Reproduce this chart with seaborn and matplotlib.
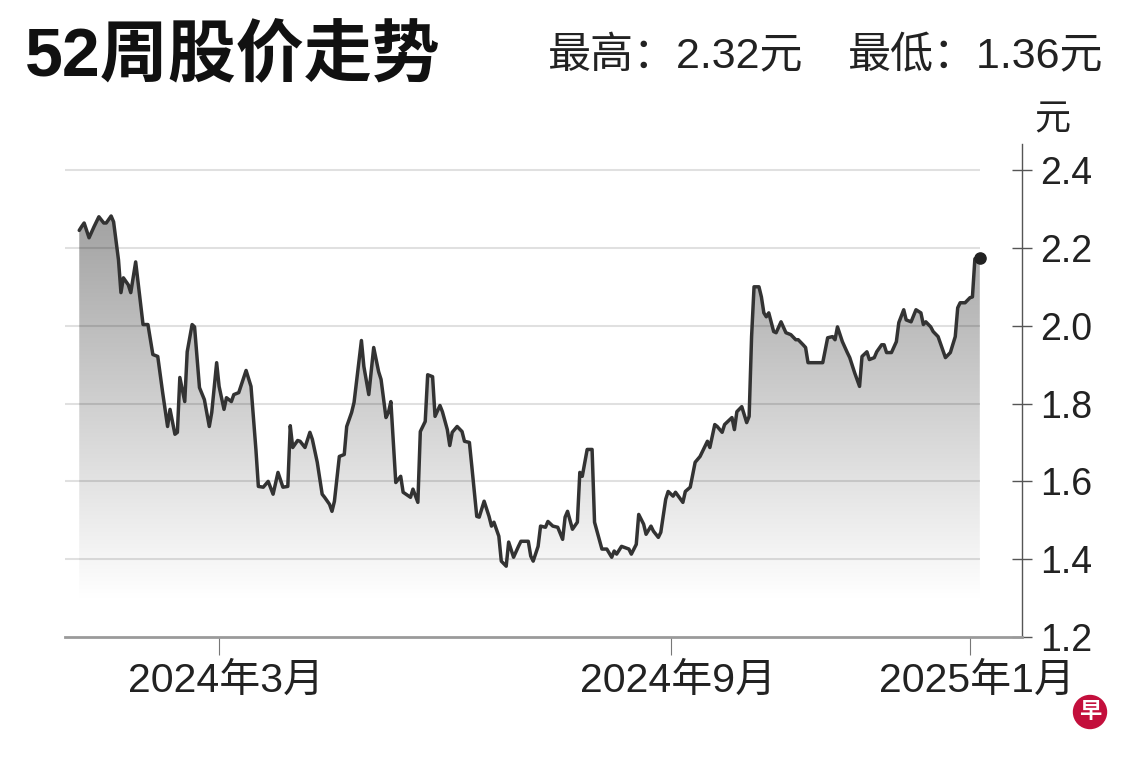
import numpy as np
import pandas as pd
import matplotlib
matplotlib.use('Agg')
import matplotlib.pyplot as plt
from matplotlib.patches import Ellipse
from matplotlib.transforms import ScaledTranslation
import matplotlib.dates as mdates
import seaborn as sns

# days counted from 2024-03-01
BASE_DATE = pd.Timestamp('2024-03-01')

day_offsets = [
    -57, -56, -55, -53, -51, -49, -47, -46, -44, -43,
    -41, -40, -39, -37, -36, -34, -33, -31, -29, -27,
    -25, -23, -21, -20, -18, -17, -16, -14, -13, -11,
    -10, -8, -6, -4, -3, -1, 0, 2, 3, 5,
    6, 8, 11, 13, 15, 16, 18, 20, 22, 24,
    26, 28, 29, 30, 32, 33, 35, 37, 38, 40,
    42, 43, 45, 46, 47, 49, 51, 52, 54, 55,
    58, 59, 61, 63, 65, 66, 68, 69, 70, 72,
    74, 75, 78, 79, 81, 82, 84, 85, 87, 88,
    90, 91, 93, 94, 95, 97, 99, 100, 102, 103,
    105, 106, 108, 110, 111, 112, 114, 115, 117, 118,
    120, 122, 123, 126, 127, 128, 130, 131, 133, 134,
    136, 138, 140, 141, 142, 144, 146, 147, 148, 150,
    152, 153, 154, 156, 158, 160, 161, 162, 164, 167,
    168, 170, 171, 173, 174, 176, 177, 179, 180, 182,
    183, 185, 186, 189, 190, 192, 194, 196, 199, 200,
    202, 203, 205, 206, 209, 210, 211, 213, 215, 216,
    217, 218, 220, 221, 222, 223, 224, 226, 227, 229,
    231, 233, 235, 236, 238, 239, 240, 246, 248, 250,
    251, 252, 254, 256, 257, 259, 261, 262, 264, 265,
    267, 268, 270, 271, 272, 274, 276, 277, 279, 280,
    282, 284, 286, 287, 288, 290, 291, 293, 296, 298,
    300, 301, 302, 304, 306, 307, 308, 310,
]

prices = [
    2.245, 2.255, 2.264, 2.226, 2.254, 2.280, 2.264, 2.264, 2.282, 2.267,
    2.169, 2.085, 2.123, 2.105, 2.085, 2.164, 2.110, 2.003, 2.003, 1.926,
    1.921, 1.828, 1.741, 1.785, 1.721, 1.726, 1.867, 1.805, 1.933, 2.003,
    1.997, 1.841, 1.810, 1.741, 1.777, 1.905, 1.844, 1.785, 1.815, 1.805,
    1.823, 1.828, 1.885, 1.844, 1.682, 1.587, 1.585, 1.600, 1.567, 1.623,
    1.585, 1.587, 1.743, 1.687, 1.705, 1.703, 1.687, 1.726, 1.708, 1.649,
    1.567, 1.559, 1.541, 1.523, 1.549, 1.664, 1.669, 1.741, 1.777, 1.803,
    1.962, 1.895, 1.823, 1.944, 1.882, 1.862, 1.764, 1.777, 1.805, 1.597,
    1.613, 1.572, 1.559, 1.580, 1.546, 1.728, 1.754, 1.874, 1.869, 1.767,
    1.795, 1.779, 1.733, 1.692, 1.726, 1.741, 1.728, 1.703, 1.700, 1.638,
    1.510, 1.508, 1.549, 1.510, 1.485, 1.495, 1.459, 1.395, 1.382, 1.444,
    1.405, 1.433, 1.446, 1.446, 1.408, 1.395, 1.433, 1.485, 1.482, 1.497,
    1.485, 1.482, 1.451, 1.508, 1.523, 1.477, 1.495, 1.623, 1.613, 1.682,
    1.682, 1.495, 1.472, 1.426, 1.426, 1.405, 1.421, 1.413, 1.433, 1.426,
    1.413, 1.438, 1.515, 1.490, 1.464, 1.485, 1.472, 1.456, 1.469, 1.554,
    1.574, 1.562, 1.572, 1.546, 1.574, 1.585, 1.649, 1.664, 1.703, 1.687,
    1.746, 1.741, 1.726, 1.746, 1.764, 1.733, 1.779, 1.792, 1.751, 1.767,
    1.972, 2.100, 2.100, 2.074, 2.033, 2.023, 2.033, 1.985, 1.982, 2.010,
    1.982, 1.977, 1.964, 1.964, 1.951, 1.944, 1.905, 1.905, 1.969, 1.972,
    1.964, 1.997, 1.959, 1.931, 1.918, 1.879, 1.844, 1.921, 1.933, 1.913,
    1.918, 1.933, 1.951, 1.951, 1.931, 1.931, 1.959, 2.008, 2.041, 2.015,
    2.010, 2.041, 2.033, 2.003, 2.010, 1.997, 1.985, 1.972, 1.918, 1.931,
    1.972, 2.046, 2.059, 2.059, 2.072, 2.074, 2.172, 2.175,
]

price_high = 2.32
price_low = 1.36

tick_dates = ['2024-03-01', '2024-09-01', '2025-01-01']
tick_labels = ['2024年3月', '2024年9月', '2025年1月']
y_ticks = [1.2, 1.4, 1.6, 1.8, 2.0, 2.2, 2.4]

sns.set_theme(style='white')
plt.rcParams['font.family'] = ['Liberation Sans', 'Noto Sans CJK SC']

df = pd.DataFrame({
    'date': BASE_DATE + pd.to_timedelta(day_offsets, unit='D'),
    'price': prices,
})

W, H = 1140, 760
fig = plt.figure(figsize=(W / 100, H / 100), dpi=100)
ax = fig.add_axes([65 / W, 1 - 637 / H, (1022 - 65) / W, (637 - 144) / H])

x_left = BASE_DATE + pd.Timedelta(days=-62.8)
x_right = BASE_DATE + pd.Timedelta(days=327.2)
y_bottom, y_top = 1.2, 2.467
last_date = df['date'].iloc[-1]

# grey gradient under the curve (dark at top, white at bottom)
fill = ax.fill_between(df['date'], df['price'], y_bottom,
                       facecolor='none', edgecolor='none')
ys = np.linspace(y_top, y_bottom, 400)
g = np.clip(0.63 + (2.3 - ys) * 0.37, 0, 1)
img = np.dstack([g, g, g]).reshape(-1, 1, 3)
im = ax.imshow(img, extent=[mdates.date2num(x_left), mdates.date2num(last_date),
                            y_bottom, y_top],
               aspect='auto', origin='upper', zorder=1, interpolation='bilinear')
im.set_clip_path(fill.get_paths()[0], transform=ax.transData)

# grid lines stop where the data stops
ax.hlines(y_ticks[1:], x_left, last_date, colors='black', alpha=0.12,
          lw=1.5, zorder=2)

sns.lineplot(data=df, x='date', y='price', color='#333333', lw=2.5,
             ax=ax, zorder=3)
ax.scatter([last_date], [df['price'].iloc[-1]], s=65, color='#222222', zorder=4)

ax.set_xlim(x_left, x_right)
ax.set_ylim(y_bottom, y_top)
ax.set_xlabel('')
ax.set_ylabel('')

for side in ['left', 'top']:
    ax.spines[side].set_visible(False)
ax.spines['right'].set_color('#555555')
ax.spines['right'].set_linewidth(1.0)
ax.spines['bottom'].set_color('#9a9a9a')
ax.spines['bottom'].set_linewidth(2.0)

ax.yaxis.tick_right()
ax.set_yticks(y_ticks)
ax.set_yticklabels([f'{v:.1f}' for v in y_ticks])
ax.tick_params(axis='y', right=True, left=False, labelright=True, labelleft=False,
               direction='inout', length=14, width=1, color='#555555',
               labelsize=27, pad=6, labelcolor='#222222')

ax.set_xticks(pd.to_datetime(tick_dates))
ax.set_xticklabels(tick_labels)
ax.tick_params(axis='x', bottom=True, direction='out', length=13, width=0.8,
               color='#777777', labelsize=29.5, pad=5, labelcolor='#222222')
# labels sit a little right of their tick marks in the original
shift = ScaledTranslation(7 / 100, 0, fig.dpi_scale_trans)
for lab in ax.get_xticklabels():
    lab.set_transform(lab.get_transform() + shift)

# titles
fig.text(25 / W, 1 - 58 / H, '52周股价走势', fontsize=49, fontweight='bold',
         va='center', ha='left', color='#111111')
fig.text(548 / W, 1 - 57 / H, f'最高：{price_high:.2f}元', fontsize=31,
         va='center', ha='left', color='#222222')
fig.text(848 / W, 1 - 57 / H, f'最低：{price_low:.2f}元', fontsize=31,
         va='center', ha='left', color='#222222')
fig.text(1052 / W, 1 - 120 / H, '元', fontsize=26, va='center', ha='center',
         color='#222222')

# red round logo, bottom right
fig.add_artist(Ellipse((1090 / W, 1 - 712 / H), 33 / W, 33 / H,
                       transform=fig.transFigure, color='#c30f3c'))
fig.text(1090 / W, 1 - 712 / H, '早', fontsize=16, fontweight='bold',
         color='white', ha='center', va='center')

fig.savefig('out.png', dpi=100)
